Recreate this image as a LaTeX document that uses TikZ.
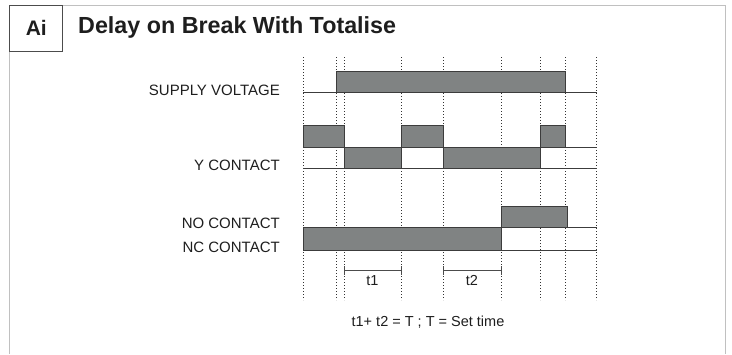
\documentclass[tikz,border=0pt]{standalone}
\usepackage{fontspec}
\setmainfont{Liberation Sans}
\definecolor{framegray}{RGB}{192,192,192}
\definecolor{boxgray}{RGB}{128,131,131}
\definecolor{edgegray}{RGB}{60,60,60}
\definecolor{txt}{RGB}{30,30,30}
\tikzset{
  guide/.style={black!80, line width=0.7pt, dash pattern=on 1pt off 2pt},
  sig/.style={edgegray, line width=1pt},
  pulse/.style={fill=boxgray, draw=edgegray, line width=1pt},
  lbl/.style={anchor=base east, text=txt, font=\fontsize{15}{17}\selectfont, inner sep=0pt},
  dim/.style={black!70, line width=0.8pt},
  tlbl/.style={text=txt, font=\fontsize{14.5}{17}\selectfont, inner sep=0pt}
}
\begin{document}
\begin{tikzpicture}[x=1pt,y=-1pt]
\useasboundingbox (0,0) rectangle (732,354);
% frame
\draw[framegray, line width=1.3pt] (9.5,354) -- (9.5,5.5) -- (725.5,5.5) -- (725.5,354);
\draw[black!70, line width=1pt] (9.5,5.5) rectangle (62,51);
\node[anchor=base, font=\bfseries\fontsize{21}{24}\selectfont, text=txt, inner sep=0pt] (ai) at (36.3,35.7) {Ai};
\node[anchor=base west, font=\bfseries\fontsize{23.3}{26}\selectfont, text=txt, inner sep=0pt] (title) at (78,33.5) {Delay on Break With Totalise};
% guides
\foreach \x in {303.3,336.7,344.3,401.7,443.3,501.7,540,565.3,596.7}
  \draw[guide] (\x,57) -- (\x,300);
% supply voltage
\draw[sig] (303,92.7) -- (597,92.7);
\draw[pulse] (336.7,71) rectangle (565.3,92.7);
% Y contact
\draw[sig] (303,147.3) -- (597,147.3);
\draw[sig] (303,168.3) -- (597,168.3);
\draw[pulse] (303.3,125.7) rectangle (344.3,147.3);
\draw[pulse] (401.7,125.7) rectangle (443.3,147.3);
\draw[pulse] (540,125.7) rectangle (565.3,147.3);
\draw[pulse] (344.3,147.3) rectangle (401.7,168.3);
\draw[pulse] (443.3,147.3) rectangle (540,168.3);
% NO / NC
\draw[sig] (303,227.3) -- (597,227.3);
\draw[sig] (303,250) -- (597,250);
\draw[pulse] (501.7,206) rectangle (567,227.3);
\draw[pulse] (303.3,227.3) rectangle (501.7,250);
% labels
\node[lbl] (sv) at (280,95.3) {SUPPLY VOLTAGE};
\node[lbl] (yc) at (280,170.3) {Y CONTACT};
\node[lbl] (no) at (280,228.5) {NO CONTACT};
\node[lbl] (nc) at (280,252.5) {NC CONTACT};
% dimensions
\coordinate (a1) at (344.3,270.7);
\coordinate (b1) at (401.7,270.7);
\coordinate (a2) at (443.3,270.7);
\coordinate (b2) at (501.7,270.7);
\draw[dim] (a1) -- (b1);
\draw[dim] (a2) -- (b2);
\foreach \p in {a1,b1,a2,b2}
  \draw[dim] ([yshift=-4.5pt]\p) -- ([yshift=4.5pt]\p);
\node[tlbl, anchor=base] (t1) at (372.5,285.3) {t1};
\node[tlbl, anchor=base] (t2) at (472,285.3) {t2};
\node[tlbl, anchor=base] (eq) at (428,326.7) {t1+ t2 = T ; T = Set time};
\end{tikzpicture}
\end{document}
